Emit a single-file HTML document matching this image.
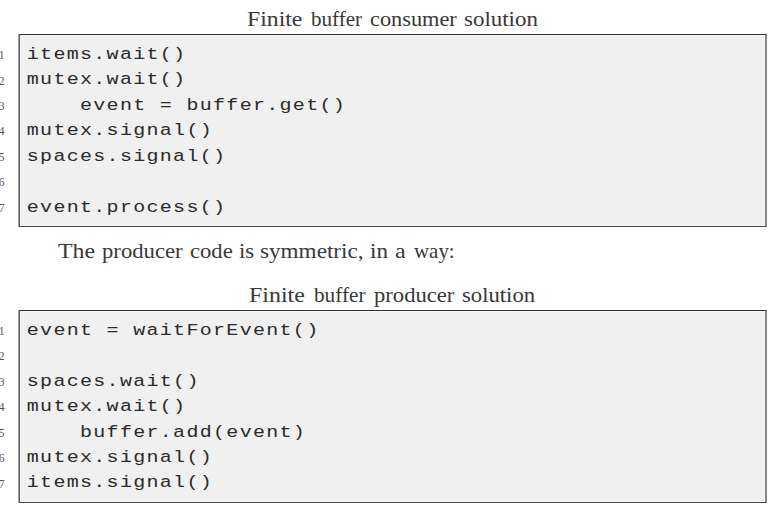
<!DOCTYPE html>
<html><head><meta charset="utf-8">
<style>
html,body{margin:0;padding:0;background:#fff;}
body{width:779px;height:515px;position:relative;overflow:hidden;}
.t{position:absolute;font-family:"Liberation Serif",serif;font-size:21.5px;color:#383838;white-space:pre;line-height:0;transform-origin:0 0;}
.box{position:absolute;left:19px;width:745px;height:191px;border-top:1px solid #2e2e2e;border-bottom:1px solid #474747;border-left:1px solid #5a5a5a;border-right:2px solid #858585;background:#f0f0f0;box-shadow:-1px 0 0 #a0a0a0, inset 0 0 0 1px #f8f8f8;}
.c{position:absolute;font-family:"Liberation Mono",monospace;font-size:20.0px;letter-spacing:1.300px;color:#2a2a2a;white-space:pre;line-height:0;left:26.8px;transform:scaleY(0.87);transform-origin:0 0;}
.n{position:absolute;font-family:"Liberation Serif",serif;font-size:11.5px;color:#505050;line-height:0;}
</style></head><body>
<div class="t" style="left:247.03px;top:19.35px;transform:scaleX(1.1031);">Finite</div>
<div class="t" style="left:310.70px;top:19.35px;transform:scaleX(0.9804);">buffer</div>
<div class="t" style="left:369.91px;top:19.35px;transform:scaleX(1.0378);">consumer</div>
<div class="t" style="left:463.79px;top:19.35px;transform:scaleX(1.0665);">solution</div>
<div class="box" style="top:34px;"></div>
<div class="c" style="top:54.87px;">items.wait()</div>
<div class="n" style="left:-1.25px;top:55.02px;">1</div>
<div class="c" style="top:80.35px;">mutex.wait()</div>
<div class="n" style="left:-1.25px;top:80.50px;">2</div>
<div class="c" style="top:105.83px;">    event = buffer.get()</div>
<div class="n" style="left:-1.25px;top:105.98px;">3</div>
<div class="c" style="top:131.31px;">mutex.signal()</div>
<div class="n" style="left:-1.25px;top:131.46px;">4</div>
<div class="c" style="top:156.79px;">spaces.signal()</div>
<div class="n" style="left:-1.25px;top:156.94px;">5</div>
<div class="n" style="left:-1.25px;top:182.42px;">6</div>
<div class="c" style="top:207.75px;">event.process()</div>
<div class="n" style="left:-1.25px;top:207.90px;">7</div>
<div class="t" style="left:57.69px;top:251.35px;transform:scaleX(1.1090);">The</div>
<div class="t" style="left:101.81px;top:251.35px;transform:scaleX(1.0559);">producer</div>
<div class="t" style="left:190.30px;top:251.35px;transform:scaleX(1.0521);">code</div>
<div class="t" style="left:239.48px;top:251.35px;transform:scaleX(1.0558);">is</div>
<div class="t" style="left:260.48px;top:251.35px;transform:scaleX(1.0773);">symmetric,</div>
<div class="t" style="left:370.27px;top:251.35px;transform:scaleX(1.0768);">in</div>
<div class="t" style="left:395.28px;top:251.35px;transform:scaleX(1.1227);">a</div>
<div class="t" style="left:414.00px;top:251.35px;transform:scaleX(0.9733);">way:</div>
<div class="t" style="left:249.42px;top:295.35px;transform:scaleX(1.1133);">Finite</div>
<div class="t" style="left:313.80px;top:295.35px;transform:scaleX(0.9881);">buffer</div>
<div class="t" style="left:373.61px;top:295.35px;transform:scaleX(1.0519);">producer</div>
<div class="t" style="left:461.70px;top:295.35px;transform:scaleX(1.0548);">solution</div>
<div class="box" style="top:310px;"></div>
<div class="c" style="top:330.87px;">event = waitForEvent()</div>
<div class="n" style="left:-1.25px;top:331.02px;">1</div>
<div class="n" style="left:-1.25px;top:356.45px;">2</div>
<div class="c" style="top:381.73px;">spaces.wait()</div>
<div class="n" style="left:-1.25px;top:381.88px;">3</div>
<div class="c" style="top:407.16px;">mutex.wait()</div>
<div class="n" style="left:-1.25px;top:407.31px;">4</div>
<div class="c" style="top:432.59px;">    buffer.add(event)</div>
<div class="n" style="left:-1.25px;top:432.74px;">5</div>
<div class="c" style="top:458.02px;">mutex.signal()</div>
<div class="n" style="left:-1.25px;top:458.17px;">6</div>
<div class="c" style="top:483.45px;">items.signal()</div>
<div class="n" style="left:-1.25px;top:483.60px;">7</div>
</body></html>
